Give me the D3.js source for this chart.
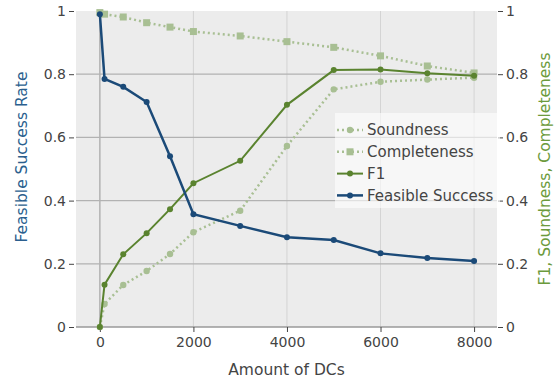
<!DOCTYPE html>
<html>
<head>
<meta charset="utf-8">
<script src="https://cdn.jsdelivr.net/npm/d3@7/dist/d3.min.js"></script>
<style>
  body { margin: 0; background: #fff; }
  text { font-family: "DejaVu Sans", Verdana, sans-serif; }
</style>
</head>
<body>
<div id="chart"></div>
<script>
const dcs          = [0, 100, 500, 1000, 1500, 2000, 3000, 4000, 5000, 6000, 7000, 8000];
const feasible     = [0.99, 0.785, 0.76, 0.712, 0.54, 0.357, 0.32, 0.284, 0.275, 0.233, 0.218, 0.209];
const f1           = [0, 0.134, 0.23, 0.297, 0.373, 0.455, 0.526, 0.703, 0.813, 0.815, 0.803, 0.795];
const soundness    = [0, 0.073, 0.133, 0.177, 0.231, 0.30, 0.368, 0.573, 0.752, 0.776, 0.783, 0.789];
const completeness = [0.995, 0.99, 0.981, 0.963, 0.949, 0.935, 0.921, 0.903, 0.885, 0.858, 0.826, 0.804];
const xTicks       = [0, 2000, 4000, 6000, 8000];
const yTicks       = [0, 0.2, 0.4, 0.6, 0.8, 1];

const WIDTH  = 560;
const HEIGHT = 381;
const PLOT   = { left: 76, right: 497, top: 11, bottom: 327 };

const BLUE       = '#1b4a78';
const GREEN      = '#5a832f';
const LIGHTGREEN = '#a8bf93';

const svg = d3.select('#chart').append('svg')
    .attr('width', WIDTH)
    .attr('height', HEIGHT);

const x  = d3.scaleLinear().domain([-510, 8490]).range([PLOT.left, PLOT.right]);
const y  = d3.scaleLinear().domain([0, 1]).range([PLOT.bottom, PLOT.top]);
const y2 = d3.scaleLinear().domain([0, 1]).range([PLOT.bottom, PLOT.top]);

// plot background
svg.append('rect')
    .attr('x', PLOT.left).attr('y', PLOT.top)
    .attr('width', PLOT.right - PLOT.left).attr('height', PLOT.bottom - PLOT.top)
    .attr('fill', '#ececec');

// grid
svg.append('g').selectAll('line')
    .data(xTicks.filter(d => d !== 0))
    .join('line')
    .attr('x1', d => x(d)).attr('x2', d => x(d))
    .attr('y1', PLOT.top).attr('y2', PLOT.bottom)
    .attr('stroke', '#d4d4d4').attr('stroke-width', 1);

svg.append('g').selectAll('line')
    .data(yTicks.filter(d => d !== 0 && d !== 1))
    .join('line')
    .attr('x1', PLOT.left).attr('x2', PLOT.right)
    .attr('y1', d => y(d)).attr('y2', d => y(d))
    .attr('stroke', '#b2b2b2').attr('stroke-width', 1.3);

// zero lines
svg.append('line')
    .attr('x1', x(0)).attr('x2', x(0))
    .attr('y1', PLOT.top).attr('y2', PLOT.bottom)
    .attr('stroke', '#b2b2b2').attr('stroke-width', 1.5);
svg.append('line')
    .attr('x1', PLOT.left).attr('x2', PLOT.right)
    .attr('y1', y(0)).attr('y2', y(0))
    .attr('stroke', '#9a9a9a').attr('stroke-width', 1.5);

// axes
const fmt = d => d === 0 ? '0' : (d === 1 ? '1' : d3.format('.1f')(d));

const xAxis = svg.append('g')
    .attr('transform', `translate(0,${PLOT.bottom})`)
    .call(d3.axisBottom(x).tickValues(xTicks).tickSize(5).tickPadding(5).tickFormat(d3.format('d')));
const yAxis = svg.append('g')
    .attr('transform', `translate(${PLOT.left - 2},0)`)
    .call(d3.axisLeft(y).tickValues(yTicks).tickSize(5).tickPadding(3).tickFormat(fmt));
const yAxis2 = svg.append('g')
    .attr('transform', `translate(${PLOT.right + 1},0)`)
    .call(d3.axisRight(y2).tickValues(yTicks).tickSize(5).tickPadding(3).tickFormat(fmt));

[xAxis, yAxis, yAxis2].forEach(a => {
    a.select('.domain').remove();
    a.selectAll('line').attr('stroke', '#444');
    a.selectAll('text').attr('fill', '#444').style('font-size', '14px');
});

// axis titles
svg.append('text')
    .attr('x', (PLOT.left + PLOT.right) / 2).attr('y', 375)
    .attr('text-anchor', 'middle')
    .attr('fill', '#444').style('font-size', '15.5px')
    .text('Amount of DCs');

svg.append('text')
    .attr('transform', `translate(27,${(PLOT.top + PLOT.bottom) / 2 - 12}) rotate(-90)`)
    .attr('text-anchor', 'middle')
    .attr('fill', '#2b5f8e').style('font-size', '15.5px')
    .text('Feasible Success Rate');

svg.append('text')
    .attr('transform', `translate(550,${(PLOT.top + PLOT.bottom) / 2}) rotate(-90)`)
    .attr('text-anchor', 'middle')
    .attr('fill', '#6c9a3c').style('font-size', '15.5px')
    .text('F1, Soundness, Completeness');

// series
const series = [
    { name: 'Soundness',        values: soundness,    scale: y2, color: LIGHTGREEN, width: 2.5, dash: '2,3', marker: 'circle' },
    { name: 'Completeness',     values: completeness, scale: y2, color: LIGHTGREEN, width: 2.5, dash: '2,3', marker: 'square' },
    { name: 'F1',               values: f1,           scale: y2, color: GREEN,      width: 2,   dash: null,  marker: 'dot' },
    { name: 'Feasible Success', values: feasible,     scale: y,  color: BLUE,       width: 2.5, dash: null,  marker: 'dot' }
];

svg.append('clipPath').attr('id', 'clip')
    .append('rect')
    .attr('x', PLOT.left).attr('y', PLOT.top - 4)
    .attr('width', PLOT.right - PLOT.left).attr('height', PLOT.bottom - PLOT.top + 8);

const marks = svg.append('g').attr('clip-path', 'url(#clip)');

function drawMarker(g, s, cx, cy) {
    if (s.marker === 'square') {
        g.append('rect')
            .attr('x', cx - 3.5).attr('y', cy - 3.5)
            .attr('width', 7).attr('height', 7)
            .attr('fill', s.color);
    } else {
        g.append('circle')
            .attr('cx', cx).attr('cy', cy)
            .attr('r', s.marker === 'circle' ? 3.2 : 3)
            .attr('fill', s.color);
    }
}

series.forEach(s => {
    const line = d3.line().x((d, i) => x(dcs[i])).y(d => s.scale(d));
    marks.append('path')
        .datum(s.values)
        .attr('fill', 'none')
        .attr('stroke', s.color)
        .attr('stroke-width', s.width)
        .attr('stroke-dasharray', s.dash)
        .attr('d', line);
    const mg = marks.append('g');
    s.values.forEach((v, i) => drawMarker(mg, s, x(dcs[i]), s.scale(v)));
});

// legend
const legend = svg.append('g').attr('transform', 'translate(335,113)');
legend.append('rect')
    .attr('width', 165).attr('height', 95)
    .attr('fill', '#ffffff').attr('fill-opacity', 0.6);

series.forEach((s, i) => {
    const gy = 17 + i * 21.8;
    const item = legend.append('g');
    item.append('line')
        .attr('x1', 2).attr('x2', 28)
        .attr('y1', gy).attr('y2', gy)
        .attr('stroke', s.color)
        .attr('stroke-width', s.width)
        .attr('stroke-dasharray', s.dash);
    drawMarker(item, s, 15, gy);
    item.append('text')
        .attr('x', 32).attr('y', gy)
        .attr('dy', '0.35em')
        .attr('fill', '#444').style('font-size', '15px')
        .text(s.name);
});
</script>
</body>
</html>
